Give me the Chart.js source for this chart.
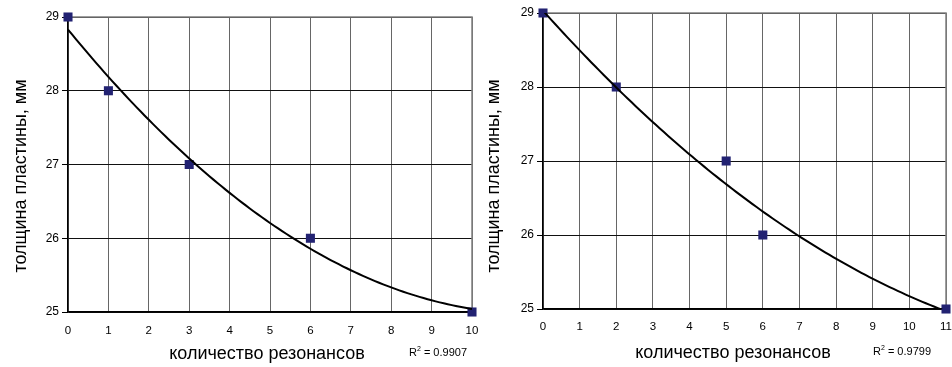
<!DOCTYPE html>
<html>
<head>
<meta charset="utf-8">
<script src="https://cdn.jsdelivr.net/npm/chart.js@4/dist/chart.umd.min.js"></script>
<style>
  html, body { margin: 0; padding: 0; background: #fff; }
  body { width: 952px; height: 367px; position: relative; overflow: hidden; }
  canvas { position: absolute; top: 0; }
  #left { left: 0; }
  #right { left: 476px; }
</style>
</head>
<body>
<canvas id="left" width="490" height="367"></canvas>
<canvas id="right" width="490" height="367"></canvas>
<script>
// левый график: количество резонансов / толщина пластины
const resonancesA = [0, 1, 3, 6, 10];
const thicknessA = [29, 28, 27, 26, 25];
const r2A = '0.9907';

// правый график
const resonancesB = [0, 2, 5, 6, 11];
const thicknessB = [29, 28, 27, 26, 25];
const r2B = '0.9799';

const xTitle = 'количество резонансов';
const yTitle = 'толщина пластины, мм';
const yTicks = [25, 26, 27, 28, 29];

const FONT = '"Liberation Sans", Arial, sans-serif';

// полиномиальный тренд 2-й степени (метод наименьших квадратов)
function polyFit2(xs, ys) {
    let s = [0, 0, 0, 0, 0], t = [0, 0, 0];
    xs.forEach((x, i) => {
        for (let k = 0; k < 5; k++) s[k] += Math.pow(x, k);
        for (let k = 0; k < 3; k++) t[k] += Math.pow(x, k) * ys[i];
    });
    const m = [
        [s[0], s[1], s[2], t[0]],
        [s[1], s[2], s[3], t[1]],
        [s[2], s[3], s[4], t[2]]
    ];
    for (let i = 0; i < 3; i++) {
        for (let j = i + 1; j < 3; j++) {
            const f = m[j][i] / m[i][i];
            for (let k = i; k < 4; k++) m[j][k] -= f * m[i][k];
        }
    }
    const c = [0, 0, 0];
    for (let i = 2; i >= 0; i--) {
        let v = m[i][3];
        for (let k = i + 1; k < 3; k++) v -= m[i][k] * c[k];
        c[i] = v / m[i][i];
    }
    return c;
}

function trendPoints(xs, ys) {
    const c = polyFit2(xs, ys);
    const x0 = Math.min(...xs), x1 = Math.max(...xs);
    const pts = [];
    const n = 100;
    for (let i = 0; i <= n; i++) {
        const x = x0 + (x1 - x0) * i / n;
        pts.push({ x: x, y: c[0] + c[1] * x + c[2] * x * x });
    }
    return pts;
}

// подписи осей, R² и рамка рисуются вручную
const labelsPlugin = {
    id: 'labels',
    beforeDatasetsDraw(chart) {
        // верхняя и правая рамка области построения
        const a = chart.chartArea;
        const ctx = chart.ctx;
        ctx.save();
        ctx.strokeStyle = '#808080';
        ctx.lineWidth = 1.5;
        ctx.beginPath();
        ctx.moveTo(a.left, a.top);
        ctx.lineTo(a.right, a.top);
        ctx.lineTo(a.right, a.bottom);
        ctx.stroke();
        ctx.restore();
    },
    afterDraw(chart, args, opts) {
        const ctx = chart.ctx;
        ctx.save();
        ctx.fillStyle = '#000';
        ctx.font = '18px ' + FONT;
        ctx.textAlign = 'center';
        ctx.textBaseline = 'middle';
        ctx.fillText(xTitle, opts.xTitleX, opts.xTitleY);

        ctx.save();
        ctx.translate(opts.yTitleX, opts.yTitleY);
        ctx.rotate(-Math.PI / 2);
        ctx.fillText(yTitle, 0, 0);
        ctx.restore();

        // R² = ...
        ctx.textAlign = 'left';
        ctx.textBaseline = 'alphabetic';
        let x = opts.r2X;
        const y = opts.r2Y;
        ctx.font = '11px ' + FONT;
        ctx.fillText('R', x, y);
        x += ctx.measureText('R').width;
        ctx.font = '7px ' + FONT;
        ctx.fillText('2', x, y - 5);
        x += ctx.measureText('2').width;
        ctx.font = '11px ' + FONT;
        ctx.fillText(' = ' + opts.r2, x, y);
        ctx.restore();
    }
};

function createChart(id, xs, ys, xMax, r2, box) {
    const ctx = document.getElementById(id).getContext('2d');
    const points = xs.map((x, i) => ({ x: x, y: ys[i] }));
    return new Chart(ctx, {
        type: 'scatter',
        data: {
            datasets: [{
                type: 'line',
                data: trendPoints(xs, ys),
                borderColor: '#000',
                borderWidth: 2,
                pointRadius: 0,
                tension: 0,
                fill: false
            }, {
                data: points,
                pointStyle: 'rect',
                pointRadius: 6.4,
                backgroundColor: '#222272',
                borderColor: '#222272',
                borderWidth: 0,
                clip: false
            }]
        },
        options: {
            responsive: false,
            animation: false,
            events: [],
            layout: { padding: { top: box.top, right: box.right, left: 0, bottom: 0 } },
            plugins: {
                legend: { display: false },
                tooltip: { enabled: false },
                labels: {
                    xTitleX: box.xTitleX, xTitleY: box.xTitleY,
                    yTitleX: box.yTitleX, yTitleY: box.yTitleY,
                    r2X: box.r2X, r2Y: box.r2Y, r2: r2
                }
            },
            scales: {
                x: {
                    type: 'linear',
                    min: 0,
                    max: xMax,
                    ticks: {
                        stepSize: 1,
                        maxRotation: 0,
                        autoSkip: false,
                        padding: box.xPad,
                        color: '#000',
                        font: { family: FONT, size: 11.5 }
                    },
                    grid: { color: '#666', lineWidth: 1, drawTicks: false },
                    border: { color: '#000', width: 1.5 },
                    afterFit(scale) {
                        scale.height = box.xHeight;
                        scale.paddingLeft = 0;
                        scale.paddingRight = 0;
                    }
                },
                y: {
                    type: 'linear',
                    min: 25,
                    max: 29,
                    afterBuildTicks(scale) {
                        scale.ticks = yTicks.map(v => ({ value: v }));
                    },
                    ticks: {
                        padding: 3,
                        color: '#000',
                        font: { family: FONT, size: 12 }
                    },
                    grid: { color: '#111', lineWidth: 1, tickLength: 6, tickColor: '#000' },
                    border: { color: '#000', width: 1.5 },
                    afterFit(scale) {
                        scale.width = box.yWidth;
                        scale.paddingTop = 0;
                        scale.paddingBottom = 0;
                    }
                }
            }
        },
        plugins: [labelsPlugin]
    });
}

createChart('left', resonancesA, thicknessA, 10, r2A, {
    top: 17, right: 18, xHeight: 55, yWidth: 68, xPad: 12,
    xTitleX: 267, xTitleY: 354, yTitleX: 21, yTitleY: 176,
    r2X: 409, r2Y: 356
});

createChart('right', resonancesB, thicknessB, 11, r2B, {
    top: 13, right: 20, xHeight: 58, yWidth: 67, xPad: 11,
    xTitleX: 257, xTitleY: 353, yTitleX: 18, yTitleY: 176,
    r2X: 397, r2Y: 355
});
</script>
</body>
</html>
